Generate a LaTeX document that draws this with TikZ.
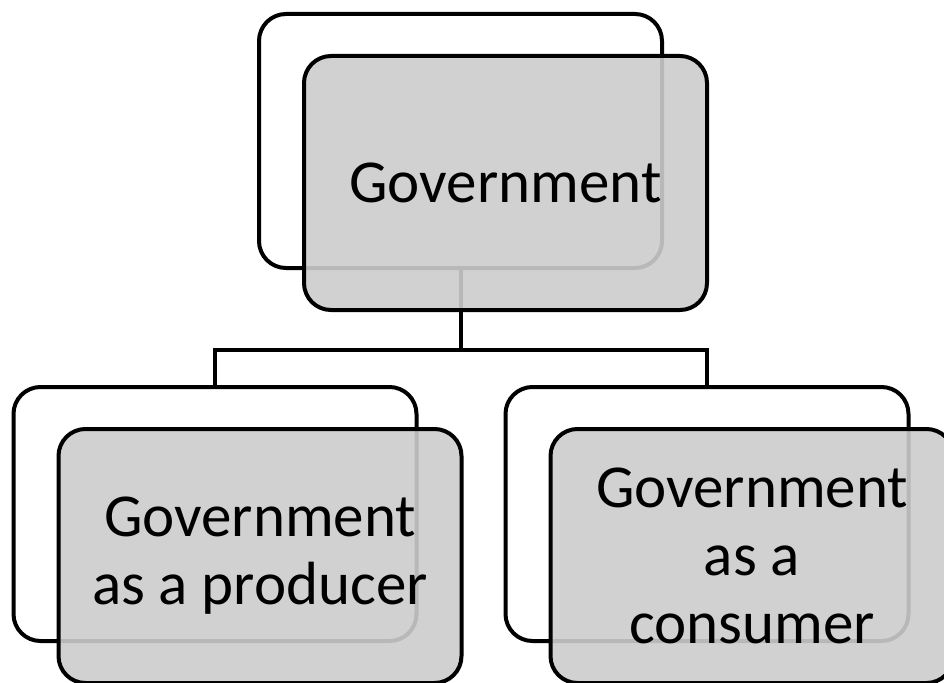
\documentclass[tikz,border=0pt]{standalone}
\usepackage{fontspec}
\setmainfont{Carlito}
\usepackage{xcolor}

\begin{document}
\begin{tikzpicture}[x=1pt,y=-1pt,
  backbox/.style={draw=black, line width=4pt, rounded corners=27pt, fill=white,
    minimum width=403pt, minimum height=254pt, inner sep=0pt},
  frontbox/.style={draw=black, line width=4pt, rounded corners=27pt, fill=black!20,
    fill opacity=0.9, text opacity=1, minimum width=403pt, minimum height=254pt,
    inner sep=0pt, align=center, font=\fontsize{61}{68}\selectfont},
  link/.style={draw=black, line width=4pt}]
\useasboundingbox (0,0) rectangle (944,682);
\clip (0,0) rectangle (944,682);
% back boxes
\node[backbox] (gov) at (460.5,141) {};
\node[backbox] (prod) at (215,514) {};
\node[backbox] (cons) at (707,514) {};
% connectors
\coordinate (fork) at ([yshift=-80pt]gov.south);
\draw[link] (gov.south) -- (fork);
\draw[link] (prod.north) |- (fork) -| (cons.north);
% front boxes
\node[frontbox] (govtxt) at ([xshift=45pt,yshift=-42pt]gov.center) {Government};
\node[frontbox] (prodtxt) at ([xshift=45pt,yshift=-42pt]prod.center) {Government\\as a producer};
\node[frontbox] (constxt) at ([xshift=45pt,yshift=-42pt]cons.center) {Government\\as a\\consumer};
\end{tikzpicture}
\end{document}
